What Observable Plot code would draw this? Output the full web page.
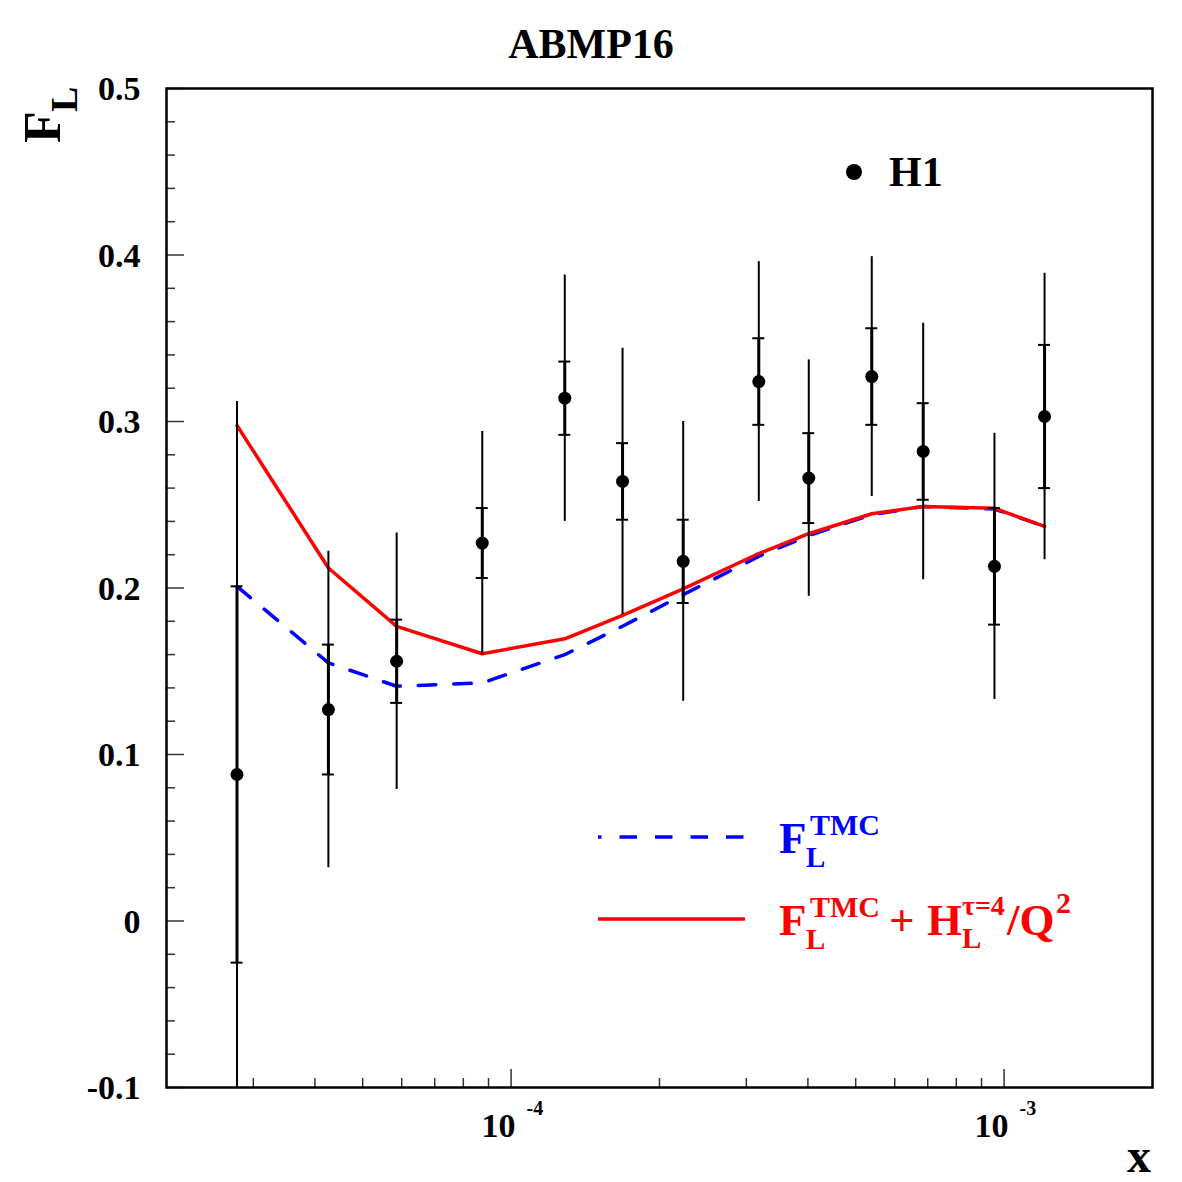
<!DOCTYPE html>
<html>
<head>
<meta charset="utf-8">
<script src="https://cdn.jsdelivr.net/npm/d3@7"></script>
<script src="https://cdn.jsdelivr.net/npm/@observablehq/plot@0.6"></script>
<style>
  html, body { margin: 0; padding: 0; background: #ffffff; }
  #chart svg { display: block; }
</style>
</head>
<body>
<div id="chart"></div>
<script>
// H1 measurements of F_L versus Bjorken x
const xH1 = [2.78e-5, 4.26e-5, 5.86e-5, 8.74e-5, 1.285e-4, 1.683e-4, 2.234e-4, 3.18e-4, 4.016e-4, 5.39e-4, 6.853e-4, 9.56e-4, 1.208e-3];
const flH1 = [0.088, 0.127, 0.156, 0.227, 0.314, 0.264, 0.216, 0.324, 0.266, 0.327, 0.282, 0.213, 0.303];
const statErr = [0.113, 0.039, 0.025, 0.021, 0.022, 0.023, 0.025, 0.026, 0.027, 0.029, 0.029, 0.035, 0.043];
const totalErr = [0.224, 0.095, 0.077, 0.067, 0.074, 0.080, 0.084, 0.072, 0.071, 0.072, 0.077, 0.080, 0.086];

// ABMP16 predictions at the same x values
const flTMC = [0.201, 0.155, 0.141, 0.143, 0.160, 0.177, 0.196, 0.219, 0.2315, 0.244, 0.249, 0.2474, 0.237];
const flTMCHT = [0.2976, 0.212, 0.177, 0.1605, 0.1695, 0.1835, 0.1995, 0.2207, 0.2326, 0.2446, 0.2489, 0.2479, 0.237];

// Axis ticks
const yMajor = [-0.1, 0, 0.1, 0.2, 0.3, 0.4, 0.5];
const yMajorLabels = ["-0.1", "0", "0.1", "0.2", "0.3", "0.4", "0.5"];
const yMinor = [-0.08, -0.06, -0.04, -0.02, 0.02, 0.04, 0.06, 0.08, 0.12, 0.14, 0.16, 0.18,
                0.22, 0.24, 0.26, 0.28, 0.32, 0.34, 0.36, 0.38, 0.42, 0.44, 0.46, 0.48];
const xMajor = [1e-4, 1e-3];
const xMajorBase = ["10", "10"];
const xMajorExp = ["-4", "-3"];
const xMinor = [3e-5, 4e-5, 5e-5, 6e-5, 7e-5, 8e-5, 9e-5,
                2e-4, 3e-4, 4e-4, 5e-4, 6e-4, 7e-4, 8e-4, 9e-4];

const FONT = "'Liberation Serif', 'Times New Roman', Times, serif";
const BLUE = "#0000ff";
const RED = "#ff0000";

const points = xH1.map((x, i) => ({x, y: flH1[i], s: statErr[i], t: totalErr[i]}));
const curves = xH1.flatMap((x, i) => [
  {x, y: flTMC[i], model: "tmc"},
  {x, y: flTMCHT[i], model: "tmcht"}
]);
const yTickRows = yMajor.map((v, i) => ({v, label: yMajorLabels[i]}));
const xTickRows = xMajor.map((v, i) => ({v, base: xMajorBase[i], exp: xMajorExp[i]}));

const chart = Plot.plot({
  width: 1182,
  height: 1182,
  marginLeft: 166,
  marginRight: 30,
  marginTop: 88,
  marginBottom: 95,
  x: {type: "log", domain: [2e-5, 2e-3], axis: null},
  y: {domain: [-0.1, 0.5], axis: null},
  style: {fontFamily: FONT, background: "#ffffff", color: "#000000", overflow: "visible"},
  marks: [
    // inward ticks on the left and bottom edges
    Plot.ruleY(yMinor, {y: d => d, x1: 2e-5, x2: 2e-5, insetRight: -9, stroke: "#333", strokeWidth: 1.5}),
    Plot.ruleY(yMajor, {y: d => d, x1: 2e-5, x2: 2e-5, insetRight: -18, stroke: "#333", strokeWidth: 1.5}),
    Plot.ruleX(xMinor, {x: d => d, y1: -0.1, y2: -0.1, insetBottom: 9, stroke: "#333", strokeWidth: 1.5}),
    Plot.ruleX(xMajor, {x: d => d, y1: -0.1, y2: -0.1, insetBottom: 18, stroke: "#333", strokeWidth: 1.5}),

    // model curves
    Plot.line(curves.filter(d => d.model === "tmc"), {
      x: "x", y: "y", stroke: BLUE, strokeWidth: 3.5, strokeDasharray: "17.5,18", strokeLinejoin: "round"
    }),
    Plot.line(curves.filter(d => d.model === "tmcht"), {
      x: "x", y: "y", stroke: RED, strokeWidth: 3.5, strokeLinejoin: "round"
    }),

    // total uncertainty
    Plot.ruleX(points, {x: "x", y1: d => d.y - d.t, y2: d => d.y + d.t, stroke: "#000", strokeWidth: 2, clip: true}),
    // statistical uncertainty
    Plot.ruleX(points, {x: "x", y1: d => d.y - d.s, y2: d => d.y + d.s, stroke: "#000", strokeWidth: 3, clip: true}),
    Plot.ruleY(points, {y: d => d.y + d.s, x1: "x", x2: "x", insetLeft: -6, insetRight: -6, stroke: "#000", strokeWidth: 2, clip: true}),
    Plot.ruleY(points, {y: d => d.y - d.s, x1: "x", x2: "x", insetLeft: -6, insetRight: -6, stroke: "#000", strokeWidth: 2, clip: true}),
    Plot.dot(points, {x: "x", y: "y", r: 6.5, fill: "#000", stroke: "none"}),

    // frame
    Plot.frame({stroke: "#000", strokeWidth: 2.5}),

    // y tick labels
    Plot.text(yTickRows, {
      x: 2e-5, y: "v", text: "label", textAnchor: "end", lineAnchor: "middle",
      dx: -26, dy: 1, fontSize: 34, fontWeight: "bold", fill: "#000"
    }),
    // x tick labels: 10 with a raised exponent
    Plot.text(xTickRows, {
      x: "v", y: -0.1, text: "base", textAnchor: "end", lineAnchor: "middle",
      dx: 4.5, dy: 39, fontSize: 34, fontWeight: "bold", fill: "#000"
    }),
    Plot.text(xTickRows, {
      x: "v", y: -0.1, text: "exp", textAnchor: "start", lineAnchor: "middle",
      dx: 15.5, dy: 21.5, fontSize: 20, fontWeight: "bold", fill: "#000"
    })
  ]
});

document.getElementById("chart").appendChild(chart);

// Titles, axis names and legend with sub/superscripts
const svg = d3.select(chart);

function richText(parts, opts = {}) {
  const t = svg.append("text")
    .attr("font-family", FONT)
    .attr("font-weight", "bold")
    .attr("text-anchor", "start")
    .attr("fill", opts.fill || "#000");
  if (opts.transform) t.attr("transform", opts.transform);
  for (const p of parts) {
    t.append("tspan")
      .attr("x", p.x)
      .attr("y", p.y)
      .attr("font-size", p.size)
      .text(p.t);
  }
  return t;
}

function plainText(str, x, y, size, anchor = "start") {
  return svg.append("text")
    .attr("x", x).attr("y", y)
    .attr("text-anchor", anchor)
    .attr("font-family", FONT).attr("font-weight", "bold")
    .attr("font-size", size).attr("fill", "#000")
    .text(str);
}

// plot title
plainText("ABMP16", 591, 58, 42, "middle");

// y axis name F_L (rotated)
richText([
  {t: "F", x: 0, y: 0, size: 52},
  {t: "L", x: 31, y: 17, size: 38}
], {transform: "translate(60,143) rotate(-90)"});

// x axis name
plainText("x", 1127, 1172, 48);

// H1 marker legend
svg.append("circle").attr("cx", 854).attr("cy", 172).attr("r", 8).attr("fill", "#000");
plainText("H1", 889, 186, 42);

// curve legend samples
svg.append("line")
  .attr("x1", 598).attr("x2", 745).attr("y1", 837).attr("y2", 837)
  .attr("stroke", BLUE).attr("stroke-width", 3.5)
  .attr("stroke-dasharray", "17.5,18").attr("stroke-dashoffset", 14);
svg.append("line")
  .attr("x1", 598).attr("x2", 745).attr("y1", 919).attr("y2", 919)
  .attr("stroke", RED).attr("stroke-width", 3.5);

richText([
  {t: "F", x: 779, y: 853, size: 45},
  {t: "TMC", x: 810, y: 835, size: 30},
  {t: "L", x: 806, y: 867, size: 29}
], {fill: BLUE});

richText([
  {t: "F", x: 779, y: 935, size: 45},
  {t: "TMC", x: 810, y: 917, size: 30},
  {t: "L", x: 806, y: 949, size: 29},
  {t: "+", x: 889, y: 935, size: 45},
  {t: "H", x: 927, y: 935, size: 45},
  {t: "\u03c4=4", x: 962, y: 915, size: 28},
  {t: "L", x: 962, y: 948, size: 29},
  {t: "/Q", x: 1007, y: 935, size: 45},
  {t: "2", x: 1056, y: 913, size: 30}
], {fill: RED});
</script>
</body>
</html>
